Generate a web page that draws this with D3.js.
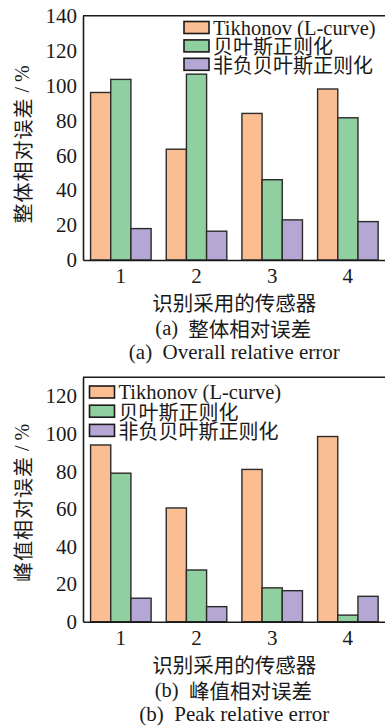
<!DOCTYPE html>
<html>
<head>
<meta charset="utf-8">
<script src="https://cdn.jsdelivr.net/npm/d3@7/dist/d3.min.js"></script>
<style>
  html, body { margin: 0; padding: 0; background: #fff; }
  svg { display: block; }
  text { fill: #1a1a1a; }
</style>
</head>
<body>
<svg id="fig" width="385" height="726"></svg>
<script>
// Sensor groups along the x axis
const sensors = ["1", "2", "3", "4"];
// Methods compared
const methods = ["Tikhonov (L-curve)", "贝叶斯正则化", "非负贝叶斯正则化"];
const methodColors = ["#fbbe93", "#90cfa0", "#b5a7d3"];

// (a) Overall relative error, %
const overallTikhonov = [96, 63.5, 84, 98];
const overallBayes = [103.5, 106.5, 46, 81.5];
const overallNonneg = [18, 16.5, 23, 22];
const overallTicks = [0, 20, 40, 60, 80, 100, 120, 140];

// (b) Peak relative error, %
const peakTikhonov = [94, 60.5, 81, 98.5];
const peakBayes = [79, 27.5, 18, 3.5];
const peakNonneg = [12.5, 8, 16.5, 13.5];
const peakTicks = [0, 20, 40, 60, 80, 100, 120];

const serif = "'Liberation Serif', 'Times New Roman', serif";
const cjk = "'Noto Sans CJK SC', sans-serif";
const svg = d3.select("#fig");

function drawPanel(opt) {
  const g = svg.append("g");
  const x0 = d3.scaleBand().domain(sensors).range([opt.left, opt.right])
    .paddingInner(0.2).paddingOuter(0.1);
  const x1 = d3.scaleBand().domain(methods).range([0, x0.bandwidth()]).padding(0);
  const y = d3.scaleLinear().domain([0, opt.yMax]).range([opt.bottom, opt.top]);

  const rows = sensors.map((s, i) => ({
    sensor: s,
    values: methods.map((m, k) => ({ method: m, k, v: opt.series[k][i] }))
  }));

  // bars
  g.selectAll("g.grp").data(rows).join("g")
    .attr("class", "grp")
    .attr("transform", d => `translate(${x0(d.sensor)},0)`)
    .selectAll("rect").data(d => d.values).join("rect")
    .attr("x", d => x1(d.method))
    .attr("width", x1.bandwidth())
    .attr("y", d => y(d.v))
    .attr("height", d => y(0) - y(d.v))
    .attr("fill", d => methodColors[d.k])
    .attr("stroke", "#2b2b2b")
    .attr("stroke-width", 1.4);

  // axes
  const yAxis = g.append("g").attr("transform", `translate(${opt.left},0)`)
    .call(d3.axisLeft(y).tickValues(opt.ticks).tickSize(0).tickPadding(6).tickFormat(d3.format("d")));
  const xAxis = g.append("g").attr("transform", `translate(0,${opt.bottom})`)
    .call(d3.axisBottom(x0).tickSize(0).tickPadding(8));
  [yAxis, xAxis].forEach(a => {
    a.select(".domain").attr("stroke", "#1a1a1a").attr("stroke-width", 1.6);
    a.selectAll("text").attr("font-family", serif).attr("font-size", 21).attr("fill", "#1a1a1a");
  });
  // top frame line
  g.append("line")
    .attr("x1", opt.left).attr("x2", opt.right)
    .attr("y1", opt.top).attr("y2", opt.top)
    .attr("stroke", "#1a1a1a").attr("stroke-width", 1.6);

  // legend
  const lg = g.append("g");
  methods.forEach((m, k) => {
    const cy = opt.legY + k * opt.legStep;
    lg.append("rect")
      .attr("x", opt.legX).attr("y", cy - 6)
      .attr("width", 25).attr("height", 12)
      .attr("fill", methodColors[k]).attr("stroke", "#1a1a1a").attr("stroke-width", 1.6);
    lg.append("text")
      .attr("x", opt.legX + 29).attr("y", cy)
      .attr("dominant-baseline", "central")
      .attr("font-family", k === 0 ? serif : cjk)
      .attr("font-size", k === 0 ? 20.5 : 20)
      .text(m);
  });

  // y title: Chinese words plus unit in serif
  const yt = svg.append("text")
    .attr("transform", `translate(${opt.yTitleX},${opt.yTitleY}) rotate(-90)`)
    .attr("text-anchor", "middle")
    .attr("dominant-baseline", "central")
    .attr("font-size", 20);
  yt.append("tspan").attr("font-family", cjk).attr("letter-spacing", 1).text(opt.yTitle);
  yt.append("tspan").attr("font-family", serif).text("\u00a0/\u00a0%");

  // x title
  const cx = (opt.left + opt.right) / 2;
  svg.append("text")
    .attr("x", cx).attr("y", opt.bottom + 42)
    .attr("text-anchor", "middle").attr("dominant-baseline", "central")
    .attr("font-family", cjk).attr("font-size", 20.5)
    .text("识别采用的传感器");

  // captions
  const cap = svg.append("text")
    .attr("x", cx - 1).attr("y", opt.bottom + 68)
    .attr("text-anchor", "middle").attr("dominant-baseline", "central")
    .attr("font-size", 20.5);
  cap.append("tspan").attr("font-family", serif).text(opt.tag + "\u00a0\u00a0");
  cap.append("tspan").attr("font-family", cjk).text(opt.capCn);

  svg.append("text")
    .attr("x", cx).attr("y", opt.bottom + 92)
    .attr("text-anchor", "middle").attr("dominant-baseline", "central")
    .attr("font-family", serif).attr("font-size", 21)
    .text(opt.tag + "\u00a0\u00a0" + opt.capEn);
}

drawPanel({
  left: 83, right: 385.7, top: 15.7, bottom: 260, yMax: 140,
  ticks: overallTicks,
  series: [overallTikhonov, overallBayes, overallNonneg],
  legX: 184, legY: 27.5, legStep: 18.4,
  yTitle: "整体相对误差", yTitleX: 21.5, yTitleY: 144.5,
  tag: "(a)", capCn: "整体相对误差", capEn: "Overall relative error"
});

drawPanel({
  left: 83, right: 385.7, top: 377.3, bottom: 621.7, yMax: 130,
  ticks: peakTicks,
  series: [peakTikhonov, peakBayes, peakNonneg],
  legX: 89.5, legY: 392, legStep: 19.2,
  yTitle: "峰值相对误差", yTitleX: 21.5, yTitleY: 503,
  tag: "(b)", capCn: "峰值相对误差", capEn: "Peak relative error"
});
</script>
</body>
</html>
